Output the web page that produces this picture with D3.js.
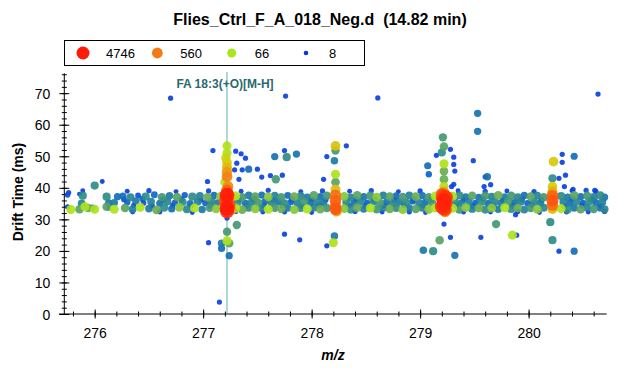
<!DOCTYPE html>
<html>
<head>
<meta charset="utf-8">
<script src="https://cdn.jsdelivr.net/npm/d3@7"></script>
<style>
  body { margin: 0; background: #fff; }
  svg { font-family: Arial, "Liberation Sans", sans-serif; }
</style>
</head>
<body>
<div id="chart"></div>
<script>
var width  = 630;
var height = 375;

// chart text
var title = "Flies_Ctrl_F_A_018_Neg.d  (14.82 min)";
var xLabel = "m/z";
var yLabel = "Drift Time (ms)";
var xTicks = [276, 277, 278, 279, 280];
var yTicks = [0, 10, 20, 30, 40, 50, 60, 70];
var legendValues = [4746, 560, 66, 8];
var annotationMz = 277.22;
var annotationLabel = "FA 18:3(+O)[M-H]";

// points: [m/z, drift time (ms), abundance]
var bandLeft = [
  [275.76, 38.5, 10], [275.75, 37.8, 12], [275.75, 34.0, 10], [275.78, 33.1, 75],
  [275.86, 38.0, 9], [275.89, 39.1, 9], [275.89, 37.5, 40], [275.88, 35.1, 30],
  [275.86, 33.2, 50], [275.91, 34.0, 72], [275.94, 33.6, 55], [275.98, 33.8, 12],
  [276.00, 33.2, 70], [276.00, 40.7, 40], [276.07, 42.0, 9], [276.11, 37.2, 40],
  [276.11, 34.0, 50], [276.13, 35.2, 25], [276.13, 33.5, 9], [276.18, 35.3, 25],
  [276.18, 33.2, 72], [276.21, 37.2, 20]
];

var bandUpper = [
  [276.26, 37.4, 20], [276.33, 37.0, 35], [276.40, 37.6, 12], [276.47, 37.2, 40],
  [276.55, 37.8, 18], [276.62, 37.0, 45], [276.69, 37.5, 25], [276.76, 37.1, 50],
  [276.83, 37.7, 15], [276.90, 37.2, 40], [276.97, 37.4, 30], [277.04, 37.0, 55],
  [277.10, 37.6, 20], [277.16, 37.3, 60], [277.30, 37.4, 70], [277.36, 37.0, 45],
  [277.42, 37.6, 25], [277.48, 37.2, 50], [277.54, 37.7, 20], [277.60, 37.1, 60],
  [277.66, 37.5, 30], [277.72, 37.0, 45], [277.78, 37.6, 18], [277.84, 37.2, 55],
  [277.90, 37.4, 35], [277.96, 37.0, 25], [278.02, 37.6, 50], [278.08, 37.2, 20],
  [278.14, 37.5, 45], [278.30, 37.3, 60], [278.36, 37.0, 30], [278.42, 37.6, 50],
  [278.48, 37.2, 22], [278.54, 37.5, 45], [278.60, 37.0, 60], [278.66, 37.6, 28],
  [278.72, 37.2, 50], [278.78, 37.5, 18], [278.84, 37.1, 45], [278.90, 37.6, 30],
  [278.96, 37.2, 55], [279.02, 37.5, 22], [279.08, 37.0, 45], [279.14, 37.4, 70],
  [279.30, 37.3, 65], [279.36, 37.6, 40], [279.42, 37.1, 25], [279.48, 37.5, 50],
  [279.54, 37.0, 20], [279.60, 37.5, 45], [279.66, 37.2, 30], [279.72, 37.6, 55],
  [279.78, 37.1, 25], [279.84, 37.5, 45], [279.90, 37.0, 35], [279.96, 37.6, 20],
  [280.02, 37.2, 50], [280.08, 37.5, 30], [280.14, 37.0, 45], [280.30, 37.4, 40],
  [280.36, 37.0, 25], [280.42, 37.6, 50], [280.48, 37.2, 20], [280.54, 37.5, 45],
  [280.60, 37.1, 30], [280.66, 37.6, 40], [280.70, 37.0, 22]
];

var bandMiddle = [
  [276.30, 35.4, 15], [276.38, 35.8, 25], [276.45, 35.2, 12], [276.52, 35.6, 30],
  [276.60, 35.1, 20], [276.67, 35.7, 35], [276.74, 35.3, 15], [276.81, 35.5, 40],
  [276.88, 35.0, 20], [276.95, 35.6, 30], [277.02, 35.2, 15], [277.08, 35.7, 35],
  [277.14, 35.3, 25], [277.32, 35.5, 40], [277.39, 35.1, 20], [277.45, 35.6, 30],
  [277.51, 35.2, 45], [277.57, 35.7, 18], [277.63, 35.3, 35], [277.69, 35.6, 22],
  [277.75, 35.1, 40], [277.81, 35.5, 15], [277.87, 35.2, 30], [277.93, 35.7, 45],
  [277.99, 35.3, 20], [278.05, 35.6, 35], [278.11, 35.2, 25], [278.32, 35.5, 40],
  [278.39, 35.1, 20], [278.45, 35.6, 35], [278.51, 35.3, 15], [278.57, 35.7, 30],
  [278.63, 35.2, 45], [278.69, 35.5, 20], [278.75, 35.1, 35], [278.81, 35.6, 25],
  [278.87, 35.3, 40], [278.93, 35.7, 15], [278.99, 35.2, 30], [279.05, 35.5, 20],
  [279.11, 35.3, 45], [279.32, 35.5, 40], [279.38, 35.1, 25], [279.45, 35.6, 30],
  [279.51, 35.2, 15], [279.57, 35.6, 40], [279.63, 35.1, 20], [279.69, 35.5, 35],
  [279.75, 35.2, 25], [279.81, 35.7, 45], [279.87, 35.3, 20], [279.93, 35.6, 30],
  [279.99, 35.1, 15], [280.05, 35.5, 35], [280.11, 35.2, 25], [280.32, 35.5, 30],
  [280.38, 35.1, 20], [280.44, 35.6, 35], [280.50, 35.2, 15], [280.56, 35.7, 40],
  [280.62, 35.3, 20], [280.68, 35.5, 30]
];

var bandLower = [
  [276.28, 33.6, 50], [276.35, 33.2, 30], [276.42, 33.8, 70], [276.50, 33.4, 25],
  [276.57, 33.0, 55], [276.64, 33.7, 40], [276.71, 33.3, 20], [276.78, 33.8, 60],
  [276.85, 33.2, 35], [276.92, 33.6, 72], [276.99, 33.1, 25], [277.06, 33.7, 45],
  [277.12, 33.3, 60], [277.30, 33.5, 80], [277.36, 33.1, 55], [277.42, 33.7, 40],
  [277.48, 33.3, 60], [277.54, 33.6, 30], [277.60, 33.2, 72], [277.66, 33.7, 45],
  [277.72, 33.3, 55], [277.78, 33.6, 25], [277.84, 33.1, 60], [277.90, 33.6, 40],
  [277.96, 33.3, 72], [278.02, 33.7, 30], [278.08, 33.2, 55], [278.14, 33.6, 45],
  [278.30, 33.4, 60], [278.36, 33.1, 40], [278.42, 33.7, 55], [278.48, 33.3, 25],
  [278.54, 33.6, 75], [278.60, 33.2, 45], [278.66, 33.7, 30], [278.72, 33.3, 55],
  [278.78, 33.6, 40], [278.84, 33.1, 60], [278.90, 33.6, 25], [278.96, 33.3, 50],
  [279.02, 33.7, 35], [279.08, 33.2, 60], [279.14, 33.6, 75], [279.30, 33.5, 70],
  [279.36, 33.1, 45], [279.42, 33.7, 60], [279.48, 33.3, 30], [279.54, 33.6, 55],
  [279.60, 33.1, 40], [279.66, 33.6, 60], [279.72, 33.2, 25], [279.78, 33.7, 72],
  [279.84, 33.3, 40], [279.90, 33.6, 55], [279.96, 33.1, 30], [280.02, 33.6, 45],
  [280.08, 33.2, 60], [280.14, 33.7, 35], [280.30, 33.4, 72], [280.36, 33.1, 40],
  [280.42, 33.6, 25], [280.48, 33.2, 50], [280.54, 33.7, 30], [280.60, 33.3, 45],
  [280.66, 33.6, 20], [280.70, 33.2, 35]
];

// small blue dots mixed through the band
var bandBlue = [
  [276.27, 36.3, 12], [276.36, 34.4, 10], [276.44, 36.5, 14], [276.53, 34.2, 11],
  [276.63, 36.2, 16], [276.72, 34.5, 10], [276.80, 36.4, 13], [276.89, 34.3, 12],
  [276.98, 36.1, 10], [277.07, 34.4, 15], [277.33, 36.3, 12], [277.40, 34.2, 10],
  [277.47, 36.5, 16], [277.56, 34.5, 11], [277.64, 36.2, 13], [277.73, 34.3, 10],
  [277.82, 36.4, 15], [277.91, 34.2, 12], [278.00, 36.3, 10], [278.07, 34.5, 14],
  [278.13, 36.1, 11], [278.34, 34.3, 13], [278.41, 36.4, 10], [278.50, 34.2, 16],
  [278.58, 36.3, 12], [278.67, 34.4, 10], [278.76, 36.2, 14], [278.85, 34.5, 11],
  [278.94, 36.4, 13], [279.03, 34.3, 10], [279.10, 36.2, 15], [279.33, 34.4, 12],
  [279.40, 36.3, 10], [279.49, 34.2, 14], [279.58, 36.5, 11], [279.67, 34.4, 16],
  [279.76, 36.1, 10], [279.85, 34.3, 13], [279.94, 36.4, 12], [280.03, 34.5, 10],
  [280.12, 36.2, 14], [280.33, 34.2, 11], [280.40, 36.4, 13], [280.49, 34.4, 10],
  [280.58, 36.2, 15], [280.67, 34.3, 12]
];

var bandEdges = [
  [276.35, 32.3, 9], [276.60, 32.4, 10], [276.90, 32.2, 9], [277.30, 32.5, 10],
  [277.55, 32.3, 9], [277.75, 32.4, 10], [278.00, 32.2, 9], [278.40, 32.5, 10],
  [278.65, 32.3, 9], [278.90, 32.4, 10], [279.05, 32.2, 9], [279.40, 32.4, 10],
  [279.65, 32.3, 9], [279.90, 32.5, 10], [280.10, 32.2, 9], [280.35, 32.4, 10],
  [280.55, 32.3, 9], [280.70, 32.5, 10],
  [276.30, 38.9, 9], [276.50, 39.1, 10], [276.75, 38.8, 9], [277.05, 39.0, 10],
  [277.35, 38.9, 9], [277.60, 39.2, 10], [277.90, 38.8, 9], [278.10, 39.0, 10],
  [278.35, 38.9, 9], [278.55, 39.1, 10], [278.80, 38.8, 9], [279.00, 39.0, 10],
  [279.35, 39.1, 9], [279.60, 38.9, 10], [279.80, 39.0, 9], [280.05, 38.8, 10],
  [280.40, 39.1, 9], [280.62, 38.9, 10]
];

var peaks = [
  // 277.22
  [277.22, 53.3, 75], [277.22, 51.0, 80], [277.21, 49.5, 110], [277.22, 48.0, 150],
  [277.22, 46.5, 200], [277.22, 45.0, 350], [277.22, 43.5, 500], [277.20, 41.8, 80],
  [277.23, 40.5, 400], [277.22, 39.2, 900], [277.22, 37.7, 4500], [277.22, 36.3, 2200],
  [277.22, 35.0, 2000], [277.22, 33.5, 4746], [277.22, 32.5, 3000], [277.24, 34.5, 1500],
  [277.20, 36.0, 1200], [277.19, 33.8, 200], [277.26, 33.0, 300], [277.26, 37.2, 150],
  // 278.22
  [278.22, 53.3, 180], [278.22, 51.8, 45], [278.21, 48.6, 25], [278.22, 44.3, 75],
  [278.22, 41.8, 50], [278.22, 39.5, 200], [278.22, 37.7, 700], [278.22, 36.0, 900],
  [278.22, 34.5, 600], [278.22, 33.3, 1200], [278.23, 32.5, 300],
  // 279.22
  [279.21, 56.0, 45], [279.22, 53.1, 50], [279.20, 51.2, 40], [279.22, 47.6, 75],
  [279.22, 45.3, 55], [279.22, 42.7, 55], [279.22, 40.4, 90], [279.22, 38.8, 300],
  [279.22, 37.5, 2000], [279.22, 36.0, 4000], [279.22, 34.5, 3500], [279.22, 33.3, 2500],
  [279.23, 32.3, 400], [279.20, 36.8, 1500], [279.24, 35.0, 1800],
  [279.20, 34.0, 3000], [279.24, 37.0, 2600], [279.20, 38.0, 1200], [279.24, 33.0, 1000],
  // 280.22
  [280.23, 48.3, 160], [280.22, 43.0, 40], [280.22, 40.4, 150], [280.22, 38.8, 250],
  [280.22, 37.5, 900], [280.22, 36.0, 1200], [280.22, 34.5, 800], [280.22, 33.3, 200]
];

var outliers = [
  [276.70, 68.4, 10], [277.76, 69.1, 10], [278.61, 68.5, 10], [280.64, 69.7, 10],
  [277.09, 51.8, 10], [277.30, 51.6, 10], [277.35, 50.8, 10], [277.39, 49.4, 10],
  [277.31, 47.8, 10], [277.36, 45.7, 10], [277.42, 45.9, 20], [277.50, 45.9, 10],
  [277.29, 45.7, 10], [277.33, 42.7, 10], [277.04, 42.0, 10], [277.54, 43.4, 10],
  [277.62, 43.9, 10], [277.67, 42.7, 45], [277.73, 44.0, 10], [277.66, 49.9, 22],
  [277.75, 51.8, 10], [277.77, 49.7, 40], [277.86, 50.7, 22], [278.32, 53.3, 10],
  [278.14, 49.9, 10], [278.11, 42.7, 10],
  [277.22, 30.4, 10], [277.22, 26.1, 45], [277.22, 23.2, 75], [277.24, 22.4, 50],
  [277.17, 22.4, 25], [277.17, 20.8, 20], [277.24, 18.5, 20], [277.05, 22.6, 10],
  [277.31, 28.2, 45], [277.75, 25.3, 10], [277.89, 23.5, 10],
  [278.20, 22.6, 75], [278.21, 24.7, 25], [278.14, 21.6, 10],
  [279.28, 52.2, 10], [279.15, 50.3, 10], [279.31, 49.7, 10], [279.31, 47.4, 10],
  [279.07, 47.0, 20], [279.32, 45.3, 10], [279.08, 44.3, 15], [279.29, 40.4, 10],
  [279.31, 41.1, 10],
  [279.53, 63.6, 22], [279.53, 57.9, 22], [279.49, 48.6, 10], [279.62, 43.5, 22],
  [279.60, 43.5, 10], [279.65, 41.0, 10], [279.59, 40.4, 10],
  [279.22, 28.5, 10], [279.70, 28.5, 45], [279.28, 24.3, 10], [279.18, 23.4, 50],
  [279.56, 24.3, 10], [279.85, 25.0, 72], [279.89, 25.0, 10], [279.03, 20.2, 25],
  [279.12, 19.9, 40], [279.32, 18.6, 22], [279.88, 31.5, 10],
  [280.31, 50.6, 10], [280.42, 50.0, 20], [280.31, 48.1, 10], [280.34, 44.0, 10],
  [280.28, 43.0, 10], [280.33, 40.4, 10], [280.41, 39.5, 10], [280.53, 39.2, 10],
  [280.61, 39.2, 10],
  [280.20, 29.1, 40], [280.22, 23.4, 40], [280.28, 19.9, 10], [280.42, 19.9, 20],
  [277.15, 3.8, 10]
];

var svg = d3.select("#chart").append("svg")
  .attr("width", width)
  .attr("height", height);

var x = d3.scaleLinear().domain([275.72, 280.72]).range([64.3, 606.7]);
var y = d3.scaleLinear().domain([0, 76.3]).range([314, 73.3]);

var color = d3.scaleLog()
  .domain([8, 15, 25, 40, 55, 66, 150, 560, 1500, 4746])
  .range(["#0a32e6", "#0d5fd0", "#1b7aa8", "#2e8c88", "#6aad52",
          "#a8e61e", "#d8cc08", "#f57a14", "#ff4a0c", "#ff1a0a"])
  .clamp(true);

var radius = d3.scaleLog()
  .domain([8, 20, 40, 66, 560, 1500, 4746])
  .range([2.3, 3.6, 4.1, 4.5, 5.4, 6.2, 7.4])
  .clamp(true);

// title
svg.append("text")
  .attr("x", 320).attr("y", 25)
  .attr("text-anchor", "middle")
  .style("white-space", "pre")
  .style("font-size", "16px").style("font-weight", "bold")
  .text(title);

// axes: major ticks with labels, minor ticks without, ticks cross the axis line
var xAxisG = svg.append("g").attr("transform", "translate(0,314)");
xAxisG.append("line").attr("x1", 59).attr("x2", 606.7).attr("stroke", "#000");
xAxisG.append("g")
  .call(d3.axisBottom(x).tickValues(d3.range(275.8, 280.72, 0.2)).tickSize(0).tickFormat(""))
  .call(function(g) {
    g.select(".domain").remove();
    g.selectAll(".tick line").attr("y1", -2.5).attr("y2", 2.5).attr("stroke", "#000");
  });
xAxisG.append("g")
  .call(d3.axisBottom(x).tickValues(xTicks).tickSize(0).tickPadding(0).tickFormat(d3.format("d")))
  .call(function(g) {
    g.select(".domain").remove();
    g.selectAll(".tick line").attr("y1", -4.5).attr("y2", 4.5).attr("stroke", "#000");
    g.selectAll(".tick text").attr("y", 23.5).attr("dy", null)
      .style("font-size", "14px").attr("fill", "#000").style("font-family", "Arial, 'Liberation Sans', sans-serif");
  });

var yAxisG = svg.append("g").attr("transform", "translate(64.3,0)");
yAxisG.append("line").attr("y1", 73.3).attr("y2", 314).attr("stroke", "#000");
yAxisG.append("g")
  .call(d3.axisLeft(y).tickValues(d3.range(2, 77, 2)).tickSize(0).tickFormat(""))
  .call(function(g) {
    g.select(".domain").remove();
    g.selectAll(".tick line").attr("x1", -2.5).attr("x2", 2.5).attr("stroke", "#000");
  });
yAxisG.append("g")
  .call(d3.axisLeft(y).tickValues(yTicks).tickSize(0).tickFormat(d3.format("d")))
  .call(function(g) {
    g.select(".domain").remove();
    g.selectAll(".tick line").attr("x1", -5).attr("x2", 5).attr("stroke", "#000");
    g.selectAll(".tick text").attr("x", -14).attr("dy", "0.36em")
      .style("font-size", "14px").attr("fill", "#000").style("font-family", "Arial, 'Liberation Sans', sans-serif");
  });

// axis titles
svg.append("text")
  .attr("transform", "translate(23,192) rotate(-90)")
  .attr("text-anchor", "middle")
  .style("font-size", "14px").style("font-weight", "bold")
  .text(yLabel);

svg.append("text")
  .attr("x", 333).attr("y", 360)
  .attr("text-anchor", "middle")
  .style("font-size", "14px").style("font-weight", "bold").style("font-style", "italic")
  .text(xLabel);

// annotation line (under the points)
svg.append("line")
  .attr("x1", x(annotationMz)).attr("x2", x(annotationMz))
  .attr("y1", 72).attr("y2", 313)
  .attr("stroke", "#acd8d8").attr("stroke-width", 2);

// points, weakest first so the strongest sit on top
var allPoints = [].concat(bandLeft, bandUpper, bandMiddle, bandLower, bandBlue, bandEdges, peaks, outliers)
  .sort(function(a, b) { return a[2] - b[2]; });

svg.append("g").selectAll("circle")
  .data(allPoints)
  .enter().append("circle")
  .attr("cx", function(d) { return x(d[0]); })
  .attr("cy", function(d) { return y(d[1]); })
  .attr("r", function(d) { return radius(d[2]); })
  .attr("fill", function(d) { return color(d[2]); })
  .attr("fill-opacity", 0.92);

svg.append("text")
  .attr("x", x(annotationMz) - 2).attr("y", 88)
  .attr("text-anchor", "middle")
  .attr("fill", "#2a6a6e")
  .style("font-size", "12px").style("font-weight", "bold")
  .text(annotationLabel);

// legend
var legend = svg.append("g");
legend.append("rect")
  .attr("x", 64.5).attr("y", 40.5).attr("width", 300).attr("height", 25)
  .attr("fill", "#fff").attr("stroke", "#000");

var legendX = d3.scalePoint().domain(legendValues).range([83, 306]);
var items = legend.selectAll(".item")
  .data(legendValues)
  .enter().append("g")
  .attr("class", "item")
  .attr("transform", function(d) { return "translate(" + legendX(d) + ",53)"; });
items.append("circle")
  .attr("r", function(d) { return Math.min(radius(d), 6.5); })
  .attr("fill", function(d) { return color(d); });
items.append("text")
  .attr("x", 23).attr("y", 4.5)
  .style("font-size", "13px")
  .text(function(d) { return d; });
</script>
</body>
</html>
